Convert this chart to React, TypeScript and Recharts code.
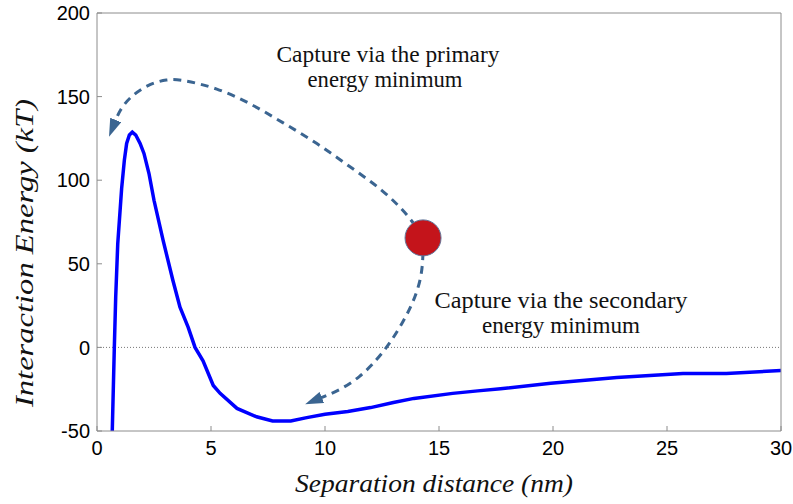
import React from "react";
import {
  LineChart,
  Line,
  XAxis,
  YAxis,
  ReferenceLine,
  ReferenceDot,
} from "recharts";

// Interaction energy profile, separation (nm) vs energy (kT)
const separation = [
  0.67, 0.76, 0.82, 0.91, 1.08, 1.2, 1.3, 1.42, 1.55, 1.7, 1.89, 2.06, 2.28, 2.5,
  2.9, 3.33, 3.64, 4.0, 4.3, 4.65, 5.1, 5.4, 6.14, 7.0, 7.7, 8.5, 9.2, 10, 11,
  12, 13, 13.9, 15.6, 16.7, 17.7, 19.9, 22.8, 25.7, 27.6, 30,
];
const energy = [
  -50, 0, 30, 62, 95, 112, 122, 127, 128.7, 127, 122, 116, 104, 88, 64, 40, 24,
  12, 0, -8, -22.8, -27.5, -36.5, -41.5, -44, -44, -42, -40, -38.3, -36, -33,
  -30.5, -27.5, -26, -24.8, -21.5, -18, -15.6, -15.6, -13.8,
];

// particle sitting on the profile
const particleX = 14.3;
const particleY = 65.5;

// capture path toward the primary minimum
const primaryPathX = [14.3, 13.73, 12.54, 11.1, 9.65, 8.16, 6.71, 5.26, 3.77, 3.07, 2.19, 1.45, 1.0, 0.79];
const primaryPathY = [65.5, 78, 94.2, 107.9, 122.3, 134.3, 146.2, 155.2, 160, 160.6, 157, 149.8, 142, 134.9];

// capture path toward the secondary minimum
const secondaryPathX = [14.3, 14.25, 13.86, 13.4, 12.85, 12.28, 11.54, 10.66, 9.78];
const secondaryPathY = [57, 42, 26.6, 14.6, 2.6, -7.4, -17.7, -25.5, -30.4];

const xTicks = [0, 5, 10, 15, 20, 25, 30];
const yTicks = [-50, 0, 50, 100, 150, 200];

const profile = separation.map((x, i) => ({ x, y: energy[i] }));
const primaryPath = primaryPathX.map((x, i) => ({ x, y: primaryPathY[i] }));
const secondaryPath = secondaryPathX.map((x, i) => ({ x, y: secondaryPathY[i] }));

const ARROW = "#3b6591";
const AXIS = "#8c8c8c";
const serif = "'Liberation Serif', 'Times New Roman', serif";
const sans = "'Liberation Sans', Arial, sans-serif";

const note = { fontFamily: serif, fontSize: 23, fill: "#111", textAnchor: "middle" as const };

export default function App() {
  return (
    <div style={{ position: "absolute", left: 0, top: 0, width: 793, height: 504, background: "#fff" }}>
      <svg width={0} height={0} style={{ position: "absolute" }}>
        <defs>
          <marker
            id="arrowHead"
            markerUnits="userSpaceOnUse"
            markerWidth={18}
            markerHeight={12}
            viewBox="0 0 18 12"
            refX={2}
            refY={6}
            orient="auto"
          >
            <path d="M0,0 L18,6 L0,12 z" fill={ARROW} />
          </marker>
        </defs>
      </svg>
      <LineChart
        width={793}
        height={504}
        margin={{ top: 12, right: 11, bottom: 0, left: 0 }}
      >
        <XAxis
          xAxisId="b"
          type="number"
          dataKey="x"
          domain={[0, 30]}
          ticks={xTicks}
          allowDataOverflow
          height={73}
          stroke={AXIS}
          tickSize={-5}
          tickMargin={15}
          tick={{ fill: "#000", fontSize: 20, fontFamily: sans }}
        />
        <XAxis
          xAxisId="t"
          orientation="top"
          type="number"
          dataKey="x"
          domain={[0, 30]}
          ticks={xTicks}
          height={1}
          stroke={AXIS}
          tickSize={-5}
          tick={false}
        />
        <YAxis
          yAxisId="l"
          type="number"
          domain={[-50, 200]}
          ticks={yTicks}
          allowDataOverflow
          width={97}
          stroke={AXIS}
          tickSize={-5}
          tickMargin={12}
          tick={{ fill: "#000", fontSize: 20, fontFamily: sans }}
        />
        <YAxis
          yAxisId="r"
          orientation="right"
          type="number"
          domain={[-50, 200]}
          ticks={yTicks}
          width={1}
          stroke={AXIS}
          tickSize={-5}
          tick={false}
        />
        <ReferenceLine
          xAxisId="b"
          yAxisId="l"
          y={0}
          stroke="#777"
          strokeWidth={1}
          strokeDasharray="1 2"
        />
        <Line
          xAxisId="b"
          yAxisId="l"
          data={profile}
          dataKey="y"
          type="linear"
          stroke="#0000ff"
          strokeWidth={3.5}
          dot={false}
          isAnimationActive={false}
        />
        <ReferenceDot
          xAxisId="b"
          yAxisId="l"
          x={particleX}
          y={particleY}
          r={18}
          fill="#c4141b"
          stroke="#60759a"
          strokeWidth={1}
        />
        <Line
          xAxisId="b"
          yAxisId="l"
          data={primaryPath}
          dataKey="y"
          type="basis"
          stroke={ARROW}
          strokeWidth={3}
          strokeDasharray="8 6"
          markerEnd="url(#arrowHead)"
          dot={false}
          isAnimationActive={false}
        />
        <Line
          xAxisId="b"
          yAxisId="l"
          data={secondaryPath}
          dataKey="y"
          type="basis"
          stroke={ARROW}
          strokeWidth={3}
          strokeDasharray="8 6"
          markerEnd="url(#arrowHead)"
          dot={false}
          isAnimationActive={false}
        />
        <text x={388} y={62} textLength={223} lengthAdjust="spacingAndGlyphs" {...note}>
          Capture via the primary
        </text>
        <text x={385} y={87} textLength={155} lengthAdjust="spacingAndGlyphs" {...note}>
          energy minimum
        </text>
        <text x={561} y={308} textLength={253} lengthAdjust="spacingAndGlyphs" {...note}>
          Capture via the secondary
        </text>
        <text x={561} y={333} textLength={158} lengthAdjust="spacingAndGlyphs" {...note}>
          energy minimum
        </text>
        <text
          x={434}
          y={492}
          textAnchor="middle"
          textLength={278}
          lengthAdjust="spacingAndGlyphs"
          fontFamily={serif}
          fontStyle="italic"
          fontSize={26}
          fill="#111"
        >
          Separation distance (nm)
        </text>
        <text
          x={0}
          y={0}
          transform="translate(33 253) rotate(-90)"
          textAnchor="middle"
          textLength={308}
          lengthAdjust="spacingAndGlyphs"
          fontFamily={serif}
          fontStyle="italic"
          fontSize={26}
          fill="#111"
        >
          Interaction Energy (kT)
        </text>
      </LineChart>
    </div>
  );
}
